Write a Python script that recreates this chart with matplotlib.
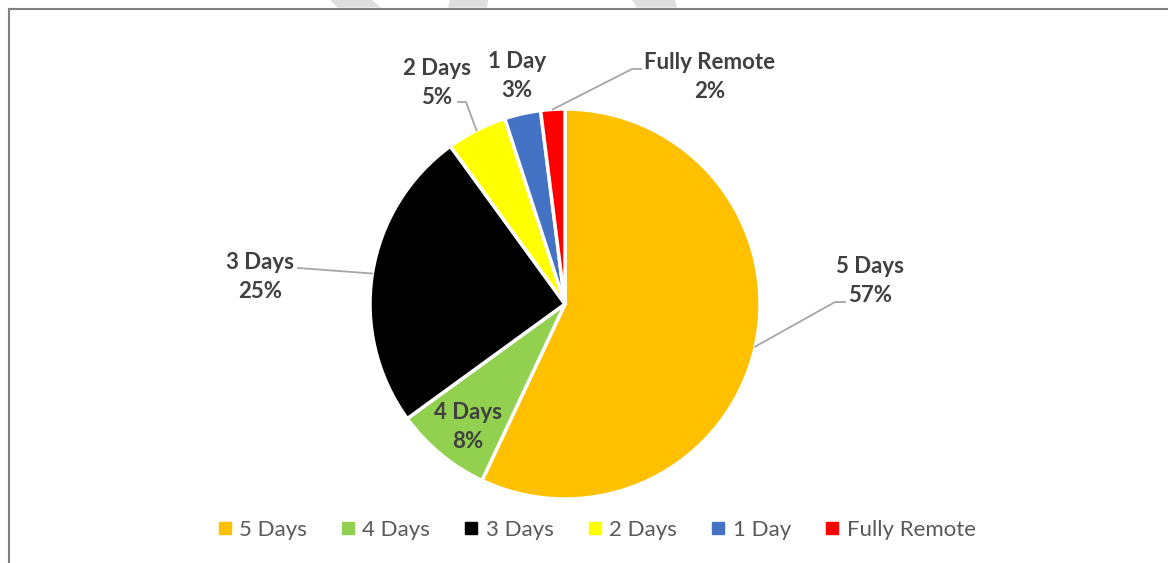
import numpy as np
import matplotlib
matplotlib.use("Agg")
import matplotlib.pyplot as plt
from matplotlib.lines import Line2D
from matplotlib.patches import Polygon

W, H = 1168, 563

categories = ["5 Days", "4 Days", "3 Days", "2 Days", "1 Day", "Fully Remote"]
shares = [57, 8, 25, 5, 3, 2]
colors = ["#FFC000", "#92D050", "#000000", "#FFFF00", "#4472C4", "#FF0000"]

# label placement in pixel coords (x, y from top), elbow of leader line or None
label_pos = [(870, 281), (468, 427), (260, 277), (437, 83), (517, 76), (710, 77)]
elbows = [(835, 302), None, (298, 268), (466, 102), None, (632, 69)]
leader_end = [(845, 302), None, (298, 268), (458, 102), None, (641, 69)]

cx, cy, R = 565, 304, 195

plt.rcParams["font.family"] = ["Lato", "DejaVu Sans"]

fig = plt.figure(figsize=(W / 100, H / 100), dpi=100)
ax = fig.add_axes([0, 0, 1, 1])

wedges, _ = ax.pie(
    shares,
    colors=colors,
    startangle=90,
    counterclock=False,
    center=(cx, H - cy),
    radius=R,
    wedgeprops=dict(edgecolor="white", linewidth=2.5),
)
ax.set_xlim(0, W)
ax.set_ylim(0, H)
ax.set_aspect("equal")
ax.axis("off")

for i, w in enumerate(wedges):
    lx, ly = label_pos[i]
    ax.text(lx, H - ly, "%s\n%d%%" % (categories[i], shares[i]),
            ha="center", va="center", fontsize=16, fontweight="bold",
            color="#404040", linespacing=1.5)
    if elbows[i] is not None:
        mid = np.deg2rad((w.theta1 + w.theta2) / 2)
        ax_, ay_ = cx + R * np.cos(mid), (H - cy) + R * np.sin(mid)
        ex, ey = elbows[i]
        tx, ty = leader_end[i]
        ax.plot([ax_, ex, tx], [ay_, H - ey, H - ty], color="#a6a6a6", lw=1.3)

handles = [Line2D([], [], marker="s", ls="none", markersize=8, color=c) for c in colors]
ax.legend(handles, categories, loc="center", bbox_to_anchor=(594 / W, 1 - 530 / H),
          ncol=6, frameon=False, fontsize=16, labelcolor="#595959",
          handletextpad=0.1, columnspacing=1.3, handlelength=1.1)

# chart frame (cut off at right and bottom)
fig.add_artist(Line2D([8.5 / W, 1], [1 - 8.5 / H, 1 - 8.5 / H], color="#808080", lw=1.5))
fig.add_artist(Line2D([8.5 / W, 8.5 / W], [0, 1 - 8.5 / H], color="#808080", lw=1.5))

# faint watermark pieces along the top edge
for xs in [(330, 372, 381, 338), (450, 488, 487, 448), (632, 675, 677, 637)]:
    pts = [(xs[0] / W, 1), (xs[1] / W, 1), (xs[2] / W, 1 - 7.5 / H), (xs[3] / W, 1 - 7.5 / H)]
    fig.add_artist(Polygon(pts, closed=True, color="#dedede", lw=0, transform=fig.transFigure))

fig.savefig("out.png", dpi=100)
